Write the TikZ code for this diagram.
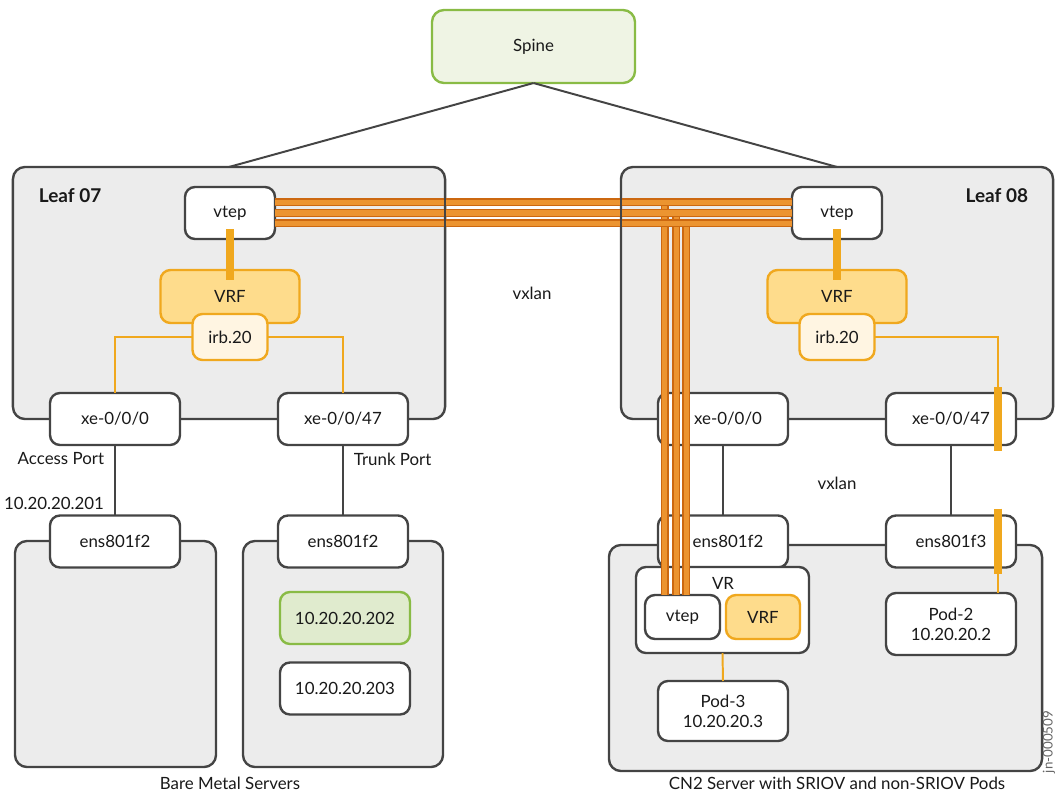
\documentclass[tikz,border=0pt]{standalone}
\usepackage{fontspec}
\setmainfont{Lato}

\definecolor{boxgray}{RGB}{68,68,68}
\definecolor{groupgray}{RGB}{236,236,236}
\definecolor{spinefill}{RGB}{239,244,228}
\definecolor{jgreen}{RGB}{137,187,69}
\definecolor{ipgreen}{RGB}{224,235,206}
\definecolor{jorange}{RGB}{240,168,30}
\definecolor{vrffill}{RGB}{254,220,140}
\definecolor{irbfill}{RGB}{255,245,226}
\definecolor{tubedark}{RGB}{204,104,16}
\definecolor{tubelight}{RGB}{236,148,48}

\tikzset{
  box/.style={draw=boxgray,line width=1.7pt,rounded corners=0.25cm,fill=white,inner sep=0pt,outer sep=0pt},
  group/.style={box,rounded corners=0.3cm,fill=groupgray},
  port/.style={box,minimum width=3.25cm,minimum height=1.3cm},
  vrfbox/.style={box,draw=jorange,fill=vrffill},
  irbbox/.style={box,draw=jorange,fill=irbfill},
  link/.style={draw=boxgray,line width=1.4pt},
  olink/.style={draw=jorange,line width=1.4pt},
  bar/.style={draw=jorange,line width=5.7pt},
  tube/.style={draw=tubedark,line width=1pt,double=tubelight,double distance=3.6pt},
}

\begin{document}
\begin{tikzpicture}[x=0.025cm,y=-0.025cm,
  every node/.style={font=\fontsize{12}{14.2}\selectfont,text=black!90}]

\useasboundingbox (0,0) rectangle (1055,792);

% spine and leaves
\node[box,draw=jgreen,fill=spinefill,rounded corners=0.3cm,minimum width=5.075cm,minimum height=1.825cm] (spine) at (533.5,46.5) {Spine};
\node[group,minimum width=10.8cm,minimum height=6.3cm] (leaf07) at (229,293) {};
\node[group,minimum width=10.8cm,minimum height=6.3cm] (leaf08) at (837,293) {};
\draw[link] (spine.south) -- (leaf07.north);
\draw[link] (spine.south) -- (leaf08.north);
\node[anchor=west,font=\fontsize{13.5}{15}\selectfont\bfseries] (leaf07txt) at (34,196) {Leaf 07};
\node[anchor=east,font=\fontsize{13.5}{15}\selectfont\bfseries] (leaf08txt) at (1033,196) {Leaf 08};

% servers
\node[group,minimum width=5.025cm,minimum height=5.65cm] (bms1) at (115.5,654) {};
\node[group,minimum width=5cm,minimum height=5.65cm] (bms2) at (343,654) {};
\node[group,minimum width=10.825cm,minimum height=5.65cm] (cn2) at (825.5,658) {};

% leaf 07
\node[box,minimum width=2.25cm,minimum height=1.3cm] (vtep07) at (230,213) {vtep};
\node[vrfbox,minimum width=3.475cm,minimum height=1.325cm] (vrf07) at (230,296.5) {VRF};
\node[irbbox,minimum width=1.875cm,minimum height=1.15cm] (irb07) at (230,337) {irb.20};
\node[port] (xe000L) at (115,419) {xe-0/0/0};
\node[port] (xe047L) at (343,419) {xe-0/0/47};
\draw[bar] ([yshift=0.25cm]vtep07.south) -- ([yshift=-0.25cm]vrf07.north);
\draw[olink] (irb07.west) -| (xe000L.north);
\draw[olink] (irb07.east) -| (xe047L.north);

% leaf 08
\node[box,minimum width=2.25cm,minimum height=1.3cm] (vtep08) at (837,213) {vtep};
\node[vrfbox,minimum width=3.475cm,minimum height=1.325cm] (vrf08) at (837,296.5) {VRF};
\node[irbbox,minimum width=1.875cm,minimum height=1.15cm] (irb08) at (837,337) {irb.20};
\node[port] (xe000R) at (723,419) {\hspace*{0.25cm}xe-0/0/0};
\node[port] (xe047R) at (951,419) {xe-0/0/47};
\draw[bar] ([yshift=0.25cm]vtep08.south) -- ([yshift=-0.25cm]vrf08.north);
\coordinate (b1) at ([xshift=-0.45cm]xe047R.north east);
\draw[olink] (irb08.east) -| (b1);
\draw[bar] ([yshift=0.15cm]b1) -- ([xshift=-0.45cm,yshift=-0.15cm]xe047R.south east);

% bare metal servers
\node[port] (ensL1) at (115,541.5) {ens801f2};
\node[port] (ensL2) at (343,541.5) {ens801f2};
\node[box,draw=jgreen,fill=ipgreen,minimum width=3.25cm,minimum height=1.3cm] (ip202) at (345,618) {10.20.20.202};
\node[port] (ip203) at (345,688.5) {10.20.20.203};
\draw[link] (xe000L.south) -- (ensL1.north);
\draw[link] (xe047L.south) -- (ensL2.north);
\node[anchor=east] (accesstxt) at (109,459) {Access Port};
\node[anchor=east] (ip201txt) at (109,503) {10.20.20.201};
\node[anchor=west] (trunktxt) at (349,459) {Trunk Port};
\node (bmstxt) at (230,783) {Bare Metal Servers};

% CN2 server
\node[port] (ensR1) at (723,541.5) {\hspace*{0.25cm}ens801f2};
\node[port] (ensf3) at (951,541.5) {ens801f3};
\node[box,minimum width=4.325cm,minimum height=2.15cm] (vr) at (722.5,610) {};
\node (vrtxt) at (723,583) {VR};
\node[box,minimum width=1.875cm,minimum height=1.1cm] (vtepvr) at (682.5,617) {vtep};
\node[vrfbox,minimum width=1.85cm,minimum height=1.1cm] (vrfvr) at (763,617) {VRF};
\node[box,minimum width=3.25cm,minimum height=1.55cm,align=center] (pod2) at (951,624) {Pod-2\\10.20.20.2};
\node[box,minimum width=3.25cm,minimum height=1.5cm,align=center] (pod3) at (723,711) {Pod-3\\10.20.20.3};
\draw[link] (xe000R.south) -- (ensR1.north);
\draw[link] (xe047R.south) -- (ensf3.north);
\draw[olink] (vr.south) -- (pod3.north);
\draw[olink] ([xshift=-0.45cm]ensf3.south east) -- ([xshift=-0.45cm]pod2.north east);
\draw[bar] ([xshift=-0.45cm,yshift=0.175cm]ensf3.north east) -- ([xshift=-0.45cm,yshift=-0.15cm]ensf3.south east);
\node (cn2txt) at (837,783) {CN2 Server with SRIOV and non-SRIOV Pods};

\node (vxlan1) at (532,293) {vxlan};
\node (vxlan2) at (837,483) {vxlan};

% vxlan tubes
\coordinate (h1) at ([yshift=0.27cm]vtep07.east);
\coordinate (h2) at (vtep07.east);
\coordinate (h3) at ([yshift=-0.26cm]vtep07.east);
\foreach \n/\dx in {1/-0.44,2/-0.16,3/0.09}{
  \coordinate (v\n) at ([xshift=\dx cm]vtepvr.north);
  \draw[tube] (v\n) -- (v\n |- h\n);
}
\foreach \n in {1,2,3}
  \draw[tube] (h\n) -- (h\n -| vtep08.west);

% leaf edges stay on top of the tubes
\begin{scope}
\clip (0,192) rectangle (1055,234);
\draw[draw=boxgray,line width=1.7pt] (leaf07.north east) -- (leaf07.south east);
\draw[draw=boxgray,line width=1.7pt] (leaf08.north west) -- (leaf08.south west);
\end{scope}

\node[rotate=90,text=black!60,font=\fontsize{9.5}{11}\selectfont] (docid) at (1049,742) {jn-000509};

\end{tikzpicture}
\end{document}
